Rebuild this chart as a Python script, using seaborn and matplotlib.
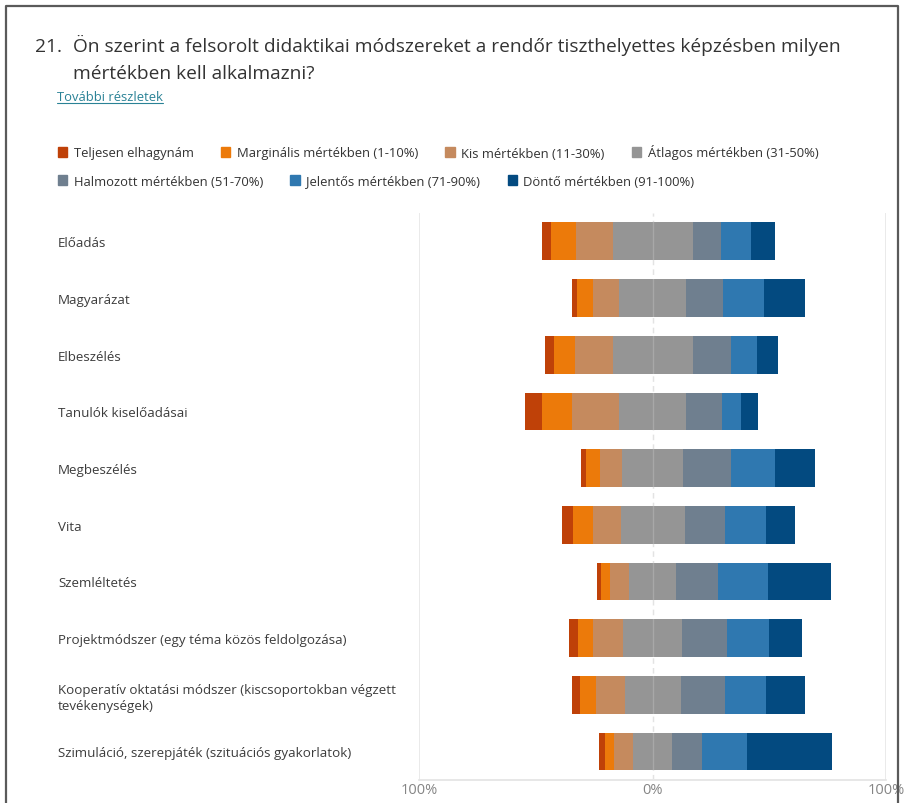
import numpy as np
import matplotlib
matplotlib.use("Agg")
import matplotlib.pyplot as plt
from matplotlib.lines import Line2D
from matplotlib.patches import Rectangle
from matplotlib.transforms import IdentityTransform
import seaborn as sns

# Data (share of answers, %)
methods = [
    "Előadás",
    "Magyarázat",
    "Elbeszélés",
    "Tanulók kiselőadásai",
    "Megbeszélés",
    "Vita",
    "Szemléltetés",
    "Projektmódszer (egy téma közös feldolgozása)",
    "Kooperatív oktatási módszer (kiscsoportokban végzett\ntevékenységek)",
    "Szimuláció, szerepjáték (szituációs gyakorlatok)",
]
levels = [
    "Teljesen elhagynám",
    "Marginális mértékben (1-10%)",
    "Kis mértékben (11-30%)",
    "Átlagos mértékben (31-50%)",
    "Halmozott mértékben (51-70%)",
    "Jelentős mértékben (71-90%)",
    "Döntő mértékben (91-100%)",
]
teljesen = [4.0, 2.4, 4.0, 7.4, 2.0, 5.0, 1.7, 3.8, 3.7, 2.6]
marginalis = [10.7, 6.5, 9.2, 12.6, 6.0, 8.3, 4.0, 6.4, 6.8, 3.8]
kis = [15.7, 11.5, 16.0, 20.5, 9.4, 12.0, 8.0, 13.0, 12.2, 8.3]
atlagos = [34.3, 28.5, 34.2, 28.5, 26.3, 27.3, 20.2, 25.2, 23.9, 16.8]
halmozott = [12.2, 15.8, 16.6, 15.6, 20.6, 17.5, 18.1, 19.2, 19.1, 12.8]
jelentos = [12.6, 17.7, 11.0, 8.2, 18.6, 17.4, 21.1, 17.9, 17.5, 19.1]
donto = [10.4, 17.6, 9.0, 7.3, 17.1, 12.4, 27.0, 14.5, 16.8, 36.6]
colors = ["#BF4108", "#EC7A0A", "#C58A5E", "#959595", "#6F7F8F", "#2F78B0", "#034A80"]
x_ticks = [-100, 0, 100]
x_tick_labels = ["100%", "0%", "100%"]

title_num = "21."
title_lines = ["Ön szerint a felsorolt didaktikai módszereket a rendőr tiszthelyettes képzésben milyen",
               "mértékben kell alkalmazni?"]
link_text = "További részletek"

W, H = 911, 804

sns.set_theme(style="white")
plt.rcParams["font.family"] = ["Open Sans", "DejaVu Sans"]

fig = plt.figure(figsize=(W / 100, H / 100), dpi=100)
ax = fig.add_axes([419.3 / W, 1 - 780.7 / H, (886 - 419.3) / W, (780.7 - 214) / H])

# diverging stack: the middle category is centred on 0
series = [teljesen, marginalis, kis, atlagos, halmozott, jelentos, donto]
data = np.array(series)
start = -(data[0] + data[1] + data[2] + data[3] / 2)
lefts = start + np.vstack([np.zeros(len(methods)), np.cumsum(data, axis=0)[:-1]])

for vals, left, color in zip(series, lefts, colors):
    sns.barplot(x=vals, y=methods, left=left, color=color, orient="h", saturation=1,
                width=0.665, linewidth=0, errorbar=None, ax=ax, zorder=2)

# grid lines
for xv in (-100, 100):
    ax.axvline(xv, color="#e8e8e8", lw=1.3, zorder=0)
ax.axvline(0, color="#dedede", lw=1, ls=(0, (4, 3)), zorder=1)
ax.axvline(0, color="white", alpha=0.18, lw=1, zorder=3)

ax.set_xlim(-100, 100)
ax.set_ylim(len(methods) - 0.5, -0.5)
ax.set_xticks(x_ticks)
ax.set_xticklabels(x_tick_labels)
ax.set_xlabel("")
ax.set_ylabel("")
for s in ["top", "left", "right"]:
    ax.spines[s].set_visible(False)
ax.spines["bottom"].set_color("#e3e3e3")
ax.spines["bottom"].set_linewidth(1.2)
ax.tick_params(axis="x", length=0, pad=2, labelsize=10.5, labelcolor="#858585")
ax.tick_params(axis="y", length=0, pad=(419.3 - 58) * 0.72, labelsize=9.6, labelcolor="#3c3c3c")
for lab in ax.get_yticklabels():
    lab.set_ha("left")
    lab.set_linespacing(1.25)

# title block (number and first question line share a baseline)
fig.text(35 / W, 1 - 52 / H, title_num, fontsize=13.8, color="#333333", va="baseline")
for i, line in enumerate(title_lines):
    fig.text(73 / W, 1 - (52 + 27 * i) / H, line, fontsize=13.8, color="#333333", va="baseline")
link = fig.text(57 / W, 1 - 98 / H, link_text, fontsize=9.4, color="#2A8296", va="center")

# legend (two flowing rows)
handles = [Rectangle((0, 0), 1, 1, color=c) for c in colors]
leg_kw = dict(frameon=False, loc="center left", borderpad=0, borderaxespad=0,
              handlelength=0.7, handleheight=0.7, handletextpad=0.5,
              columnspacing=2.1, fontsize=9.4, labelcolor="#333333")
fig.legend(handles[:4], levels[:4], ncol=4, bbox_to_anchor=(58 / W, 1 - 153 / H), **leg_kw)
fig.legend(handles[4:], levels[4:], ncol=3, bbox_to_anchor=(58 / W, 1 - 182 / H), **leg_kw)

# outer frame
fig.lines.append(Line2D([6 / W, 6 / W, 898 / W, 898 / W], [0, 1 - 7 / H, 1 - 7 / H, 0],
                        transform=fig.transFigure, color="#5a5a5a", lw=1.6))

# underline the link
fig.canvas.draw()
bb = link.get_window_extent(fig.canvas.get_renderer())
fig.lines.append(Line2D([bb.x0, bb.x1], [bb.y0 + 0.5, bb.y0 + 0.5], transform=IdentityTransform(),
                        color="#2A8296", lw=0.8))

fig.savefig("out.png", dpi=100)
